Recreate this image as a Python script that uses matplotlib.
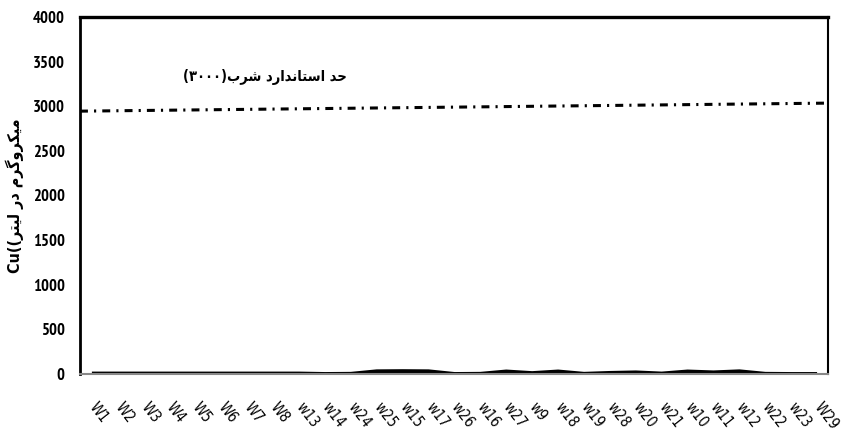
import matplotlib
matplotlib.use("Agg")
import matplotlib.pyplot as plt
from matplotlib import font_manager
from matplotlib.font_manager import FontProperties
import numpy as np

wells = ["W1", "W2", "W3", "W4", "W5", "W6", "W7", "W8", "w13", "w14", "w24", "w25",
         "w15", "w17", "w26", "w16", "w27", "w9", "w18", "w19", "w28", "w20", "w21",
         "w10", "w11", "w12", "w22", "w23", "W29"]
cu = [5, 5, 5, 5, 5, 5, 5, 5, 5, 0, 2, 30, 32, 30, 0, 2, 28, 10, 28, 2, 12, 18, 5,
      28, 18, 30, 2, 0, 0]
# drinking standard line, as it appears at the left and right edge
std_edges = [2945, 3035]

# persian text written in presentation forms, visual order (no shaping in mpl)
std_label = "(\u06f3\u06f0\u06f0\u06f0)\ufe8f\ufeae\ufeb7 \ufea9\ufead\ufe8d\ufeaa\ufee7\ufe8e\ufe98\ufeb3\ufe8d \ufeaa\ufea3"
y_label = "Cu((\ufeae\ufe98\ufbff\ufedf \ufead\ufea9 \ufee1\ufeae\ufb94\ufeed\ufeae\ufb91\ufbff\ufee3"

# bold narrow face for y ticks
bold_narrow = [f.fname for f in font_manager.fontManager.ttflist
               if "Narrow" in f.name and f.weight in (700, "bold") and f.style == "normal"]
if bold_narrow:
    ytick_fp = FontProperties(fname=bold_narrow[0], size=12)
else:
    ytick_fp = FontProperties(family="DejaVu Sans", weight="bold", stretch="condensed", size=11)

fig = plt.figure(figsize=(8.41, 4.45), dpi=100)
ax = fig.add_axes([0.0951, 0.1596, 0.8894, 0.8022])

x = np.arange(len(wells))
ax.plot(x, cu, color="black", lw=2.8, solid_capstyle="butt")
ax.set_xlim(-0.46, len(wells) - 1 + 0.42)
ax.set_ylim(0, 4000)

xl = ax.get_xlim()
ax.plot(xl, std_edges, color="black", lw=2.2, dashes=(2.6, 2.0, 0.7, 2.0))
ax.text(6.7, 3330, std_label, fontsize=10.5, ha="center", va="center",
        family=["DejaVu Sans"], fontweight="bold", fontstretch="condensed")

ax.set_yticks(np.arange(0, 4001, 500))
ax.set_xticks(x)
ax.set_xticklabels(wells, rotation=-52, ha="left", va="center",
                   rotation_mode="anchor", fontsize=10.5, family="DejaVu Sans",
                   fontstretch="condensed")
for t in ax.get_yticklabels():
    t.set_fontproperties(ytick_fp)
ax.tick_params(axis="both", length=0)
ax.tick_params(axis="y", pad=11)
ax.tick_params(axis="x", pad=22)

ax.set_ylabel(y_label, fontsize=11.5, fontweight="bold", family=["DejaVu Sans"],
              fontstretch="condensed", labelpad=6)

ax.spines["left"].set_linewidth(2)
ax.spines["top"].set_linewidth(2.4)
ax.spines["right"].set_linewidth(1.5)
ax.spines["bottom"].set_color("#888888")
ax.spines["bottom"].set_linewidth(1.5)

fig.savefig("out.png", dpi=100)
